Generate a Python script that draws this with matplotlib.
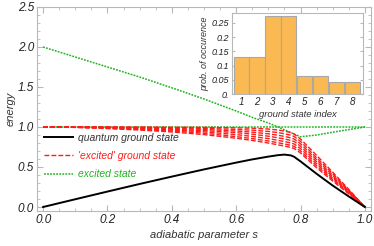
import matplotlib
matplotlib.use("Agg")
import matplotlib.pyplot as plt
from matplotlib.ticker import MultipleLocator, FixedLocator
import numpy as np

plt.rcParams['font.family'] = ['Liberation Sans', 'DejaVu Sans']
plt.rcParams['font.style'] = 'italic'

# ---------------- data ----------------
s_vals = [0.0, 0.1, 0.2, 0.3, 0.4, 0.5, 0.6, 0.65, 0.7, 0.73, 0.75, 0.77, 0.78, 0.8, 0.85, 0.9, 0.95, 1.0]

ground = [0.0, 0.097, 0.193, 0.288, 0.38, 0.47, 0.555, 0.595, 0.63, 0.648, 0.655, 0.645, 0.628, 0.57, 0.415, 0.268, 0.132, 0.0]

excited_ground = [
    [1.0, 1.0, 1.0, 0.999, 0.997, 0.995, 0.99, 0.985, 0.975, 0.962, 0.95, 0.93, 0.912, 0.85, 0.645, 0.435, 0.22, 0.0],
    [1.0, 1.0, 0.998, 0.995, 0.99, 0.983, 0.97, 0.96, 0.945, 0.93, 0.915, 0.897, 0.882, 0.82, 0.615, 0.415, 0.21, 0.0],
    [1.0, 0.999, 0.996, 0.99, 0.982, 0.97, 0.95, 0.935, 0.915, 0.897, 0.882, 0.864, 0.85, 0.79, 0.59, 0.395, 0.2, 0.0],
    [1.0, 0.998, 0.993, 0.985, 0.972, 0.955, 0.93, 0.91, 0.885, 0.865, 0.85, 0.832, 0.82, 0.76, 0.565, 0.377, 0.19, 0.0],
    [1.0, 0.997, 0.99, 0.978, 0.962, 0.94, 0.905, 0.882, 0.855, 0.833, 0.818, 0.8, 0.788, 0.73, 0.54, 0.36, 0.18, 0.0],
    [1.0, 0.996, 0.985, 0.97, 0.95, 0.922, 0.88, 0.855, 0.825, 0.803, 0.788, 0.77, 0.758, 0.7, 0.515, 0.342, 0.172, 0.0],
    [1.0, 0.995, 0.98, 0.962, 0.938, 0.905, 0.86, 0.832, 0.8, 0.777, 0.762, 0.744, 0.732, 0.675, 0.49, 0.325, 0.165, 0.0],
]

excited_a = [2.0, 1.875, 1.75, 1.625, 1.49, 1.35, 1.2, 1.12, 1.05, 1.0, 0.965, 0.93, 0.912, 0.878, 0.9, 0.935, 0.968, 1.0]
excited_b = [1.0] * len(s_vals)

bar_index = [1, 2, 3, 4, 5, 6, 7, 8]
bar_prob = [0.129, 0.129, 0.275, 0.275, 0.062, 0.062, 0.042, 0.042]

x_ticks = [0.0, 0.2, 0.4, 0.6, 0.8, 1.0]
x_ticklabels = ["0.0", "0.2", "0.4", "0.6", "0.8", "1.0"]
y_ticks = [0.0, 0.5, 1.0, 1.5, 2.0, 2.5]
y_ticklabels = ["0.0", "0.5", "1.0", "1.5", "2.0", "2.5"]
inset_yticks = [0.0, 0.05, 0.1, 0.15, 0.2, 0.25]
inset_yticklabels = ["0.", "0.05", "0.1", "0.15", "0.2", "0.25"]

# ---------------- figure ----------------
W, H = 374, 246
fig = plt.figure(figsize=(W / 100, H / 100), dpi=100)

def frac(l, t, r, b):
    return [l / W, 1 - b / H, (r - l) / W, (b - t) / H]

frame_col = '#b8b8b8'
red = '#ff1a1a'
green = '#1fb51f'

ax = fig.add_axes(frac(37, 7, 371, 211))
ax.set_xlim(-0.019, 1.019)
ax.set_ylim(-0.05, 2.5)

for i, eg in enumerate(excited_ground):
    ax.plot(s_vals, eg, color=red, lw=1.0, ls=(0, (3.5, 1.5)),
            label="'excited' ground state" if i == 0 else None, zorder=3)
ax.plot(s_vals, ground, color='black', lw=1.4, label='quantum ground state', zorder=4)
ax.plot(s_vals, excited_a, color=green, lw=1.1, ls=(0, (1.2, 0.8)), label='excited state', zorder=2)
ax.plot(s_vals, excited_b, color=green, lw=1.1, ls=(0, (1.2, 0.8)), zorder=2)

for sp in ax.spines.values():
    sp.set_color(frame_col)
    sp.set_linewidth(0.8)

ax.xaxis.set_major_locator(FixedLocator(x_ticks))
ax.set_xticklabels(x_ticklabels)
ax.yaxis.set_major_locator(FixedLocator(y_ticks))
ax.set_yticklabels(y_ticklabels)
ax.xaxis.set_minor_locator(MultipleLocator(0.05))
ax.yaxis.set_minor_locator(MultipleLocator(0.1))
ax.tick_params(which='both', direction='in', top=True, right=True, color=frame_col,
               labelsize=8.5, labelcolor='#222222', pad=2)
ax.tick_params(which='major', length=4, width=0.8)
ax.tick_params(which='minor', length=2, width=0.6)
for lab in ax.get_xticklabels() + ax.get_yticklabels():
    lab.set_style('italic')

ax.set_xlabel('adiabatic parameter s', fontsize=8, style='italic', color='#333333', labelpad=3)
ax.set_ylabel('energy', fontsize=8, style='italic', color='#333333', labelpad=2)

handles, labels = ax.get_legend_handles_labels()
order = [labels.index('quantum ground state'), labels.index("'excited' ground state"), labels.index('excited state')]
leg = ax.legend([handles[i] for i in order], [labels[i] for i in order],
                loc='upper left', bbox_to_anchor=(0.0, 0.42), frameon=False,
                fontsize=7.5, handlelength=2.8, handletextpad=0.45, labelspacing=0.8,
                borderaxespad=0.3, labelcolor=['#333333', red, green])
for t in leg.get_texts():
    t.set_style('italic')

# ---------------- inset ----------------
ax2 = fig.add_axes(frac(232, 13, 363, 94))
ax2.bar(bar_index, bar_prob, width=0.96, color='#fbb953', edgecolor='#a8a8a8', linewidth=0.8, zorder=2)
ax2.set_xlim(0.42, 8.68)
ax2.set_ylim(0, 0.285)
for sp in ax2.spines.values():
    sp.set_color(frame_col)
    sp.set_linewidth(0.8)
ax2.xaxis.set_major_locator(FixedLocator(bar_index))
ax2.set_xticklabels([str(i) for i in bar_index])
ax2.yaxis.set_major_locator(FixedLocator(inset_yticks))
ax2.set_yticklabels(inset_yticklabels)
ax2.tick_params(axis='x', length=0, labelsize=7, pad=2, labelcolor='#222222')
ax2.tick_params(axis='y', direction='in', length=2.5, color=frame_col, right=True,
                labelsize=6.5, pad=2, labelcolor='#222222')
for lab in ax2.get_xticklabels() + ax2.get_yticklabels():
    lab.set_style('italic')
ax2.set_xlabel('ground state index', fontsize=6.8, style='italic', color='#333333', labelpad=2)
ax2.set_ylabel('prob. of occurence', fontsize=6.5, style='italic', color='#333333', labelpad=2)

fig.savefig('out.png', dpi=100)
